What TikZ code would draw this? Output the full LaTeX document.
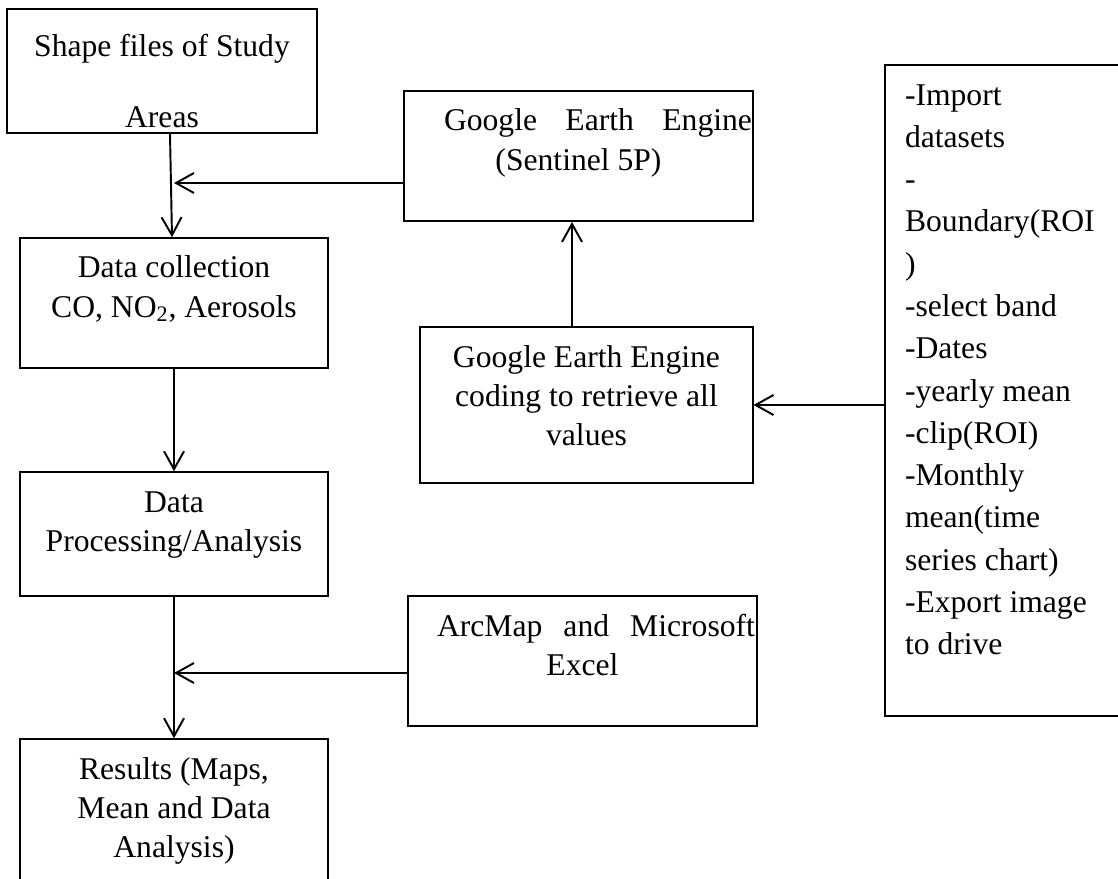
\documentclass[tikz,border=0pt]{standalone}
\usepackage{fontspec}
\setmainfont{Liberation Serif}
\usetikzlibrary{arrows.meta}
\pgfdeclarelayer{edgelayer}
\pgfdeclarelayer{nodelayer}
\pgfsetlayers{edgelayer,nodelayer,main}
\tikzset{font=\fontsize{18}{22.2}\selectfont}
\tikzstyle{block}=[draw, rectangle, inner sep=0pt, line width=0.9pt]
\tikzstyle{thin block}=[block, line width=0.6pt]
\tikzstyle{flow}=[-{Straight Barb[length=0.36cm,width=0.4cm]}, line width=1.1pt]
\newcommand{\boxtext}[4][0.8cm]{\parbox[c][#3][t]{#2}{\centering\rule{0pt}{#1}#4}}

\begin{document}
\begin{tikzpicture}
	\useasboundingbox (0, 0) rectangle (22.36, -17.58);
	\begin{pgfonlayer}{nodelayer}
		\clip (0, 0) rectangle (22.36, -17.58);
		\node [style=block, line width=1.1pt] (0) at (3.24, -1.42) {\boxtext[0.95cm]{6.2cm}{2.48cm}{Shape files of Study\\[0.64cm]Areas}};
		\node [style=block] (1) at (3.48, -6.06) {\boxtext{6.16cm}{2.6cm}{Data collection\\CO, NO\textsubscript{2}, Aerosols}};
		\node [style=block, line width=1.1pt] (2) at (11.57, -3.12) {\boxtext{6.98cm}{2.6cm}{\hspace*{0.78cm}\makebox[6.16cm][s]{Google Earth Engine}\\(Sentinel 5P)}};
		\node [style=block] (3) at (3.48, -10.68) {\boxtext{6.16cm}{2.48cm}{Data\\Processing/Analysis}};
		\node [style=thin block] (4) at (11.73, -8.1) {\boxtext{6.66cm}{3.12cm}{Google Earth Engine\\coding to retrieve all\\values}};
		\node [style=block] (5) at (3.48, -16.28) {\boxtext{6.16cm}{3cm}{Results (Maps,\\Mean and Data\\Analysis)}};
		\node [style=thin block] (6) at (20.15, -7.81) {\parbox[c][13.02cm][t]{4.9cm}{\raggedright\leftskip=0.4cm\baselineskip=0.846cm\rule{0pt}{0.8cm}-Import\\datasets\\-\\Boundary(ROI\\)\\-select band\\-Dates\\-yearly mean\\-clip(ROI)\\-Monthly\\mean(time\\series chart)\\-Export image\\to drive}};
		\node [style=block] (7) at (11.65, -13.22) {\boxtext{6.98cm}{2.6cm}{\hspace*{0.54cm}\makebox[6.36cm][s]{ArcMap and Microsoft}\\Excel}};
	\end{pgfonlayer}
	\begin{pgfonlayer}{edgelayer}
		\coordinate (8) at ([yshift=-0.54cm]2.west);
		\coordinate (9) at ([yshift=-0.24cm]7.west);
		\coordinate (10) at ([xshift=-0.29cm]4.north);
		\draw [style=flow] ([xshift=0.16cm]0.south) to ([xshift=-0.04cm]1.north);
		\draw [style=flow] (8) to (8 -| 1.north);
		\draw [style=flow] (1.south) to (3.north);
		\draw [style=flow] (3.south) to (5.north);
		\draw [style=flow] (9) to (9 -| 5.north);
		\draw [style=flow] (10) to (10 |- 2.south);
		\draw [style=flow] (4.east -| 6.west) to (4.east);
	\end{pgfonlayer}
\end{tikzpicture}
\end{document}
